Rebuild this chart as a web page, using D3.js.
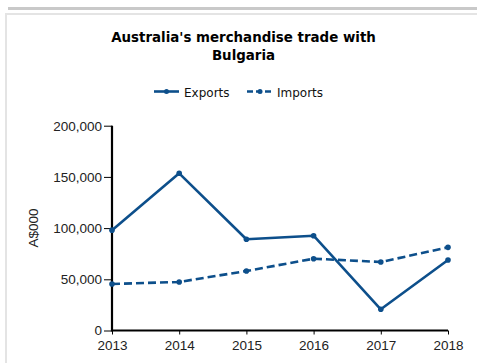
<!DOCTYPE html>
<html>
<head>
<meta charset="utf-8">
<script src="https://cdn.jsdelivr.net/npm/d3@7/dist/d3.min.js"></script>
<style>
  html, body { margin: 0; padding: 0; background: #fff; }
  svg { display: block; }
</style>
</head>
<body>
<svg id="chart" width="477" height="363"></svg>
<script>
// Australia's merchandise trade with Bulgaria, A$000
const years = ["2013", "2014", "2015", "2016", "2017", "2018"];
const exportsValues = [98000, 153500, 89100, 92600, 20700, 68800];
const importsValues = [45400, 47400, 58100, 70100, 66900, 81200];
const yTicks = [0, 50000, 100000, 150000, 200000];
const titleLines = ["Australia's merchandise trade with", "Bulgaria"];
const seriesNames = ["Exports", "Imports"];

const svg = d3.select("#chart");
const W = 477, H = 363;
const blue = "#0d4f8b";
const labelFont = "'Liberation Sans', Arial, sans-serif";
const titleFont = "'DejaVu Sans', Verdana, sans-serif";

// page frame
svg.append("rect").attr("x", 8).attr("y", 7).attr("width", W - 8).attr("height", 3).attr("fill", "#c9c9c9");
svg.append("rect").attr("x", 6).attr("y", 13).attr("width", W - 6).attr("height", 2).attr("fill", "#e4e4e4");
svg.append("rect").attr("x", 5).attr("y", 13).attr("width", 2).attr("height", H - 13).attr("fill", "#e4e4e4");

// title
const title = svg.append("text")
  .attr("text-anchor", "middle")
  .attr("font-family", titleFont)
  .attr("font-weight", "bold")
  .attr("font-size", 13.4)
  .attr("fill", "#000");
titleLines.forEach((t, i) => {
  title.append("tspan").attr("x", 243.5).attr("y", 42 + i * 17.5).text(t);
});

// scales
const x = d3.scalePoint().domain(years).range([112, 448]);
const y = d3.scaleLinear().domain([0, 200000]).range([330.5, 125.7]);

// axes
const yAxis = svg.append("g")
  .attr("transform", "translate(112,0)")
  .call(d3.axisLeft(y).tickValues(yTicks).tickSize(8).tickPadding(2).tickFormat(d3.format(",")));
const xAxis = svg.append("g")
  .attr("transform", "translate(0,330.5)")
  .call(d3.axisBottom(x).tickSize(4));

[yAxis, xAxis].forEach(g => {
  g.select(".domain").attr("stroke", "#000").attr("stroke-width", 2.2);
  g.selectAll(".tick line").attr("stroke", "#000").attr("stroke-width", 1);
  g.selectAll(".tick text")
    .attr("font-family", labelFont)
    .attr("font-size", 13.5)
    .attr("fill", "#222");
});
xAxis.selectAll(".tick text").attr("dy", null).attr("y", 19);
xAxis.select(".domain").attr("d", `M112,0H448`);
yAxis.select(".domain").attr("d", `M0,${y(200000)}V${y(0) + 1}`);

// y axis title
svg.append("text")
  .attr("transform", `translate(38,228) rotate(-90)`)
  .attr("text-anchor", "middle")
  .attr("font-family", labelFont)
  .attr("font-size", 13.5)
  .attr("fill", "#222")
  .text("A$000");

// series
const series = [
  { name: seriesNames[0], values: exportsValues, dash: null },
  { name: seriesNames[1], values: importsValues, dash: "8,4" }
];
const line = d3.line().x((d, i) => x(years[i])).y(d => y(d));

series.forEach(s => {
  svg.append("path")
    .datum(s.values)
    .attr("fill", "none")
    .attr("stroke", blue)
    .attr("stroke-width", 2.6)
    .attr("stroke-linejoin", "round")
    .attr("stroke-dasharray", s.dash)
    .attr("d", line);
  svg.append("g").selectAll("circle")
    .data(s.values)
    .join("circle")
    .attr("cx", (d, i) => x(years[i]))
    .attr("cy", d => y(d))
    .attr("r", 2.8)
    .attr("fill", blue);
});

// legend
const legendItems = [
  { name: seriesNames[0], x0: 154, x1: 179, tx: 184, dash: null },
  { name: seriesNames[1], x0: 247, x1: 273, tx: 277, dash: "6,3" }
];
legendItems.forEach(l => {
  svg.append("line")
    .attr("x1", l.x0).attr("x2", l.x1).attr("y1", 91.5).attr("y2", 91.5)
    .attr("stroke", blue).attr("stroke-width", 2.6)
    .attr("stroke-dasharray", l.dash);
  svg.append("circle").attr("cx", (l.x0 + l.x1) / 2).attr("cy", 91.5).attr("r", 2.5).attr("fill", blue);
  svg.append("text")
    .attr("x", l.tx).attr("y", 96.5)
    .attr("font-family", titleFont)
    .attr("font-size", 12)
    .attr("fill", "#111")
    .text(l.name);
});
</script>
</body>
</html>
